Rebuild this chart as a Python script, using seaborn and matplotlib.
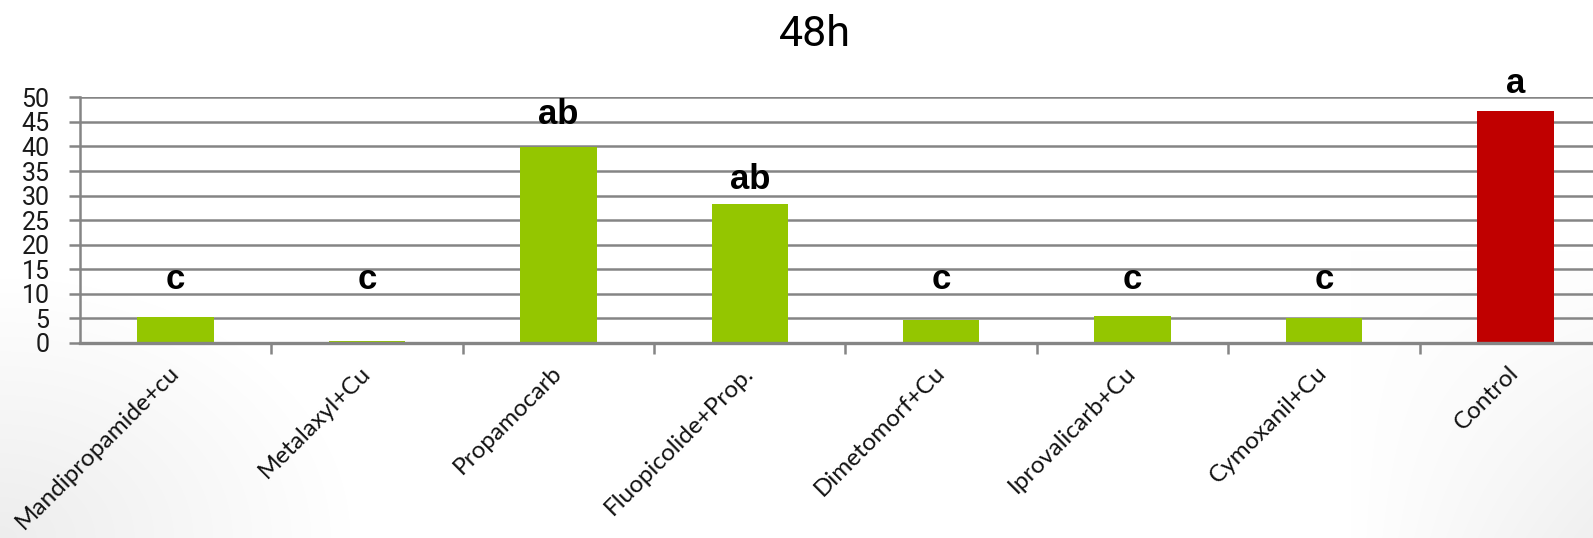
import matplotlib
matplotlib.use("Agg")
import matplotlib.pyplot as plt
import seaborn as sns
import numpy as np
import pandas as pd

categories = ["Mandipropamide+cu", "Metalaxyl+Cu", "Propamocarb", "Fluopicolide+Prop.",
              "Dimetomorf+Cu", "Iprovalicarb+Cu", "Cymoxanil+Cu", "Control"]
values = [5.2, 0.5, 39.8, 28.3, 4.7, 5.4, 5.1, 47.2]
letters = ["c", "c", "ab", "ab", "c", "c", "c", "a"]
letter_y = [13.0, 13.0, 46.4, 33.2, 13.0, 13.0, 13.0, 52.9]
groups = ["treat"] * 7 + ["control"]
title = "48h"
yticks = [0, 5, 10, 15, 20, 25, 30, 35, 40, 45, 50]

sns.set_theme(style="white")
plt.rcParams['font.family'] = ['Liberation Sans', 'DejaVu Sans']

W, H = 1593, 538
fig = plt.figure(figsize=(W / 100, H / 100), dpi=100)

# subtle slide background gradient
yy, xx = np.mgrid[0:H, 0:W]
bg = np.ones((H, W))
d1 = np.clip(1 - np.hypot((xx - 0) / 350, (yy - H) / 260), 0, 1)
d2 = np.clip((xx - 1350) / 243, 0, 1) * np.clip((yy - 250) / 288, 0, 1)
bg = bg - 0.07 * d1 - 0.06 * d2
fig.figimage(np.dstack([bg, bg, bg]), xo=0, yo=0, origin='upper', zorder=-10)

left = 80 / W
right = 1611 / W
bottom = 1 - 343 / H
top = 1 - 97.3 / H
ax = fig.add_axes([left, bottom, right - left, top - bottom])
ax.patch.set_alpha(0)

df = pd.DataFrame({"cat": categories, "val": values, "grp": groups})
sns.barplot(data=df, x="cat", y="val", hue="grp", dodge=False, width=0.40,
            palette={"treat": "#94C600", "control": "#C00000"}, legend=False,
            ax=ax, saturation=1, zorder=3, linewidth=0)

ax.set_xlim(-0.5, len(categories) - 0.5)
ax.set_ylim(0, 50)
ax.set_yticks(yticks)
ax.set_yticklabels([str(t) for t in yticks], fontsize=18, family='Roboto', color='#1a1a1a')
ax.grid(axis='y', color='#858585', linewidth=1.8, zorder=0)
ax.set_axisbelow(True)
for s in ['top', 'right']:
    ax.spines[s].set_visible(False)
for s in ['left', 'bottom']:
    ax.spines[s].set_color('#858585')
ax.spines['left'].set_linewidth(1.8)
ax.spines['bottom'].set_linewidth(2.4)
ax.spines['bottom'].set_zorder(5)

ax.tick_params(axis='y', which='major', left=True, length=8, width=1.8, color='#858585', pad=14)
ax.set_xticks(range(len(categories)))
ax.set_xticklabels(categories, rotation=45, ha='right', va='center', rotation_mode='anchor',
                   fontsize=17.5, family='Lato', color='#111111')
ax.tick_params(axis='x', which='major', bottom=False, length=0, pad=19)
ax.set_xticks([i + 0.5 for i in range(len(categories))], minor=True)
ax.tick_params(axis='x', which='minor', bottom=True, length=8, width=1.8, color='#858585')
ax.set_xlabel("")
ax.set_ylabel("")

for i, (lab, ly) in enumerate(zip(letters, letter_y)):
    ax.text(i, ly, lab, ha='center', va='center', fontsize=25, fontweight='bold',
            color='black', clip_on=False, zorder=6)

fig.text(815 / W, 1 - 35 / H, title, ha='center', va='center', fontsize=31,
         family='Roboto', color='black')

fig.savefig("out.png", dpi=100)
